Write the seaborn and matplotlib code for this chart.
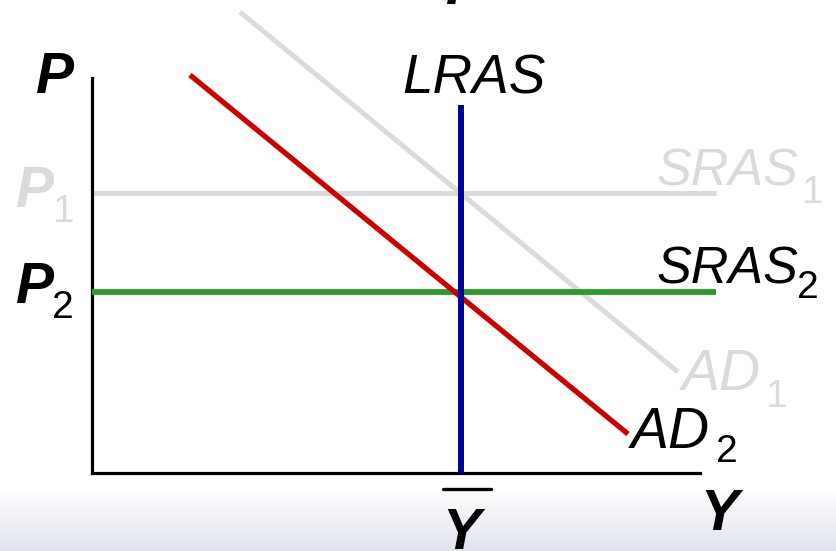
import numpy as np
import pandas as pd
import matplotlib
matplotlib.use("Agg")
import matplotlib.pyplot as plt
from matplotlib.lines import Line2D
import seaborn as sns

# ---- data (economic units) ----
Y_bar = 9.225
P1 = 7.0
P2 = 4.52
lras_x = [Y_bar, Y_bar]
lras_y = [0.0, 9.2]
sras1_x = [0.0, 15.6]
sras1_y = [P1, P1]
sras2_x = [0.0, 15.6]
sras2_y = [P2, P2]
ad1_x = [3.7, 14.65]
ad1_y = [11.525, 2.525]
ad2_x = [2.45, 13.4]
ad2_y = [9.95, 0.975]
axis_y_top = 9.875
axis_x_end = 15.2

W, H = 836, 551
sns.set_theme(style="white")
plt.rcParams['font.family'] = ['Liberation Sans', 'DejaVu Sans']

fig = plt.figure(figsize=(W / 100, H / 100), dpi=100)
fig.patch.set_facecolor("white")

# background gradient at the bottom
bg = fig.add_axes([0, 0, 1, 1], zorder=-5)
grad = np.ones((H, 1, 3))
top_c = np.array([1.0, 1.0, 1.0])
bot_c = np.array([0xE0, 0xE4, 0xEE]) / 255.0
for r in range(H):
    if r >= 486:
        t = (r - 486) / (H - 1 - 486)
        grad[r, 0] = top_c * (1 - t) + bot_c * t
bg.imshow(grad, aspect="auto", extent=[0, W, H, 0], interpolation="bilinear")
bg.set_xlim(0, W)
bg.set_ylim(H, 0)
bg.axis("off")

# main axes: origin at pixel (92, 473), 40 px per unit
ax = fig.add_axes([92 / W, (H - 473) / H, (W - 92) / W, 473 / H])
ax.set_xlim(0, (W - 92) / 40)
ax.set_ylim(0, 473 / 40)
ax.patch.set_alpha(0)
for s in ["top", "right"]:
    ax.spines[s].set_visible(False)
for s in ["left", "bottom"]:
    ax.spines[s].set_color("black")
    ax.spines[s].set_linewidth(2.3)
ax.spines["left"].set_bounds(0, axis_y_top)
ax.spines["bottom"].set_bounds(0, axis_x_end)
ax.set_xticks([])
ax.set_yticks([])

gray = "#dadada"

def curve(x, y, color, lw, z):
    df = pd.DataFrame({"x": x, "y": y})
    sns.lineplot(data=df, x="x", y="y", ax=ax, color=color, linewidth=lw,
                 estimator=None, sort=False, zorder=z, clip_on=False,
                 solid_capstyle="butt")

curve(ad1_x, ad1_y, gray, 3.6, 2)
curve(sras1_x, sras1_y, gray, 3.6, 2)
curve(sras2_x, sras2_y, "#2e9a2e", 4.2, 3)
curve(ad2_x, ad2_y, "#cc0000", 3.8, 4)
curve(lras_x, lras_y, "#00009a", 4.3, 5)
ax.set_xlabel("")
ax.set_ylabel("")

def px(x, y):
    return (x / W, 1 - y / H)

def txt(x, y, s, size, color="black", weight="normal", style="normal"):
    fig.text(*px(x, y), s, fontsize=size, color=color, fontweight=weight,
             fontstyle=style, ha="left", va="baseline")

# axis labels
txt(36, 93, "P", 41, weight="bold", style="italic")
txt(700, 530, "Y", 41, weight="bold", style="italic")
txt(442, 549, "Y", 41, weight="bold", style="italic")
fig.add_artist(Line2D([443 / W, 491 / W], [1 - 489 / H, 1 - 489 / H],
                      color="black", lw=2.4, transform=fig.transFigure))
txt(446, 4, "P", 41, weight="bold", style="italic")

# price labels
txt(16, 207, "P", 41, color=gray, weight="bold", style="italic")
txt(53, 222, "1", 28, color=gray)
txt(16, 303, "P", 41, weight="bold", style="italic")
txt(52, 318, "2", 28)

# curve labels
txt(402, 93, "LRAS", 39.5, style="italic")
txt(657, 185, "SRAS", 37.5, color=gray, style="italic")
txt(802, 203, "1", 28, color=gray)
txt(657, 283, "SRAS", 37.5, style="italic")
txt(797, 298, "2", 28)
txt(682, 390, "AD", 41, color=gray, style="italic")
txt(766, 407, "1", 28, color=gray)
txt(631, 448, "AD", 41, style="italic")
txt(716, 462, "2", 28)

fig.savefig("out.png", dpi=100)
